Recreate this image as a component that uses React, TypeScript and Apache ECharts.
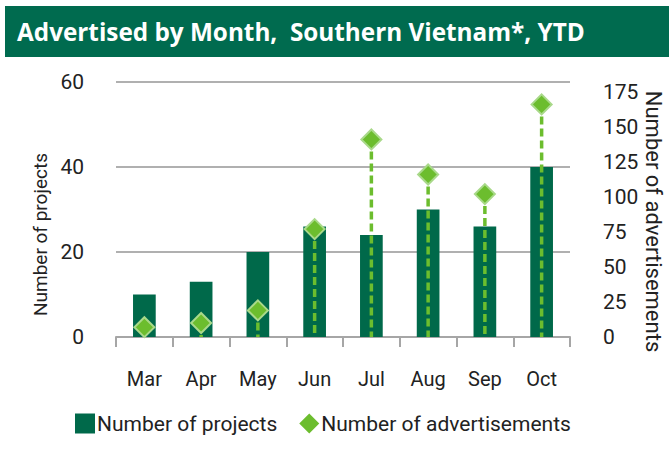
import React, { useEffect, useRef } from "react";
import * as echarts from "echarts";

const months = ["Mar", "Apr", "May", "Jun", "Jul", "Aug", "Sep", "Oct"];
const projects = [10, 13, 20, 26, 24, 30, 26, 40];
const advertisements = [7, 10, 19, 77, 141, 116, 102, 166];
const leftTicks = { min: 0, max: 60, interval: 20 };
const rightTicks = { min: 0, max: 182, interval: 25 };

const FONT = "Roboto, 'Noto Sans', sans-serif";
const DARK = "#00694a";
const LIGHT = "#6cbd2e";
const TXT = "#222222";

export default function App() {
  const ref = useRef<HTMLDivElement>(null);
  useEffect(() => {
    if (!ref.current) return;
    const chart = echarts.init(ref.current, null, { renderer: "svg" });
    chart.setOption({
      animation: false,
      backgroundColor: "#ffffff",
      graphic: [
        { type: "rect", left: 5, top: 6, shape: { width: 664, height: 51 }, style: { fill: "#006b4f" } },
        {
          type: "text",
          x: 17,
          y: 31,
          style: {
            text: "Advertised by Month,  Southern Vietnam*, YTD",
            fill: "#ffffff",
            font: "bold 24.3px 'Open Sans', sans-serif",
            verticalAlign: "middle",
          },
        },
      ],
      grid: { left: 116, right: 99, top: 82, bottom: 130, outerBoundsMode: "none", containLabel: false },
      legend: {
        top: 408,
        left: 70,
        itemGap: 22,
        itemWidth: 20,
        itemHeight: 20,
        textStyle: { fontFamily: FONT, fontSize: 21, color: TXT, padding: [0, 0, 0, -3] },
        data: [
          { name: "Number of projects", icon: "rect" },
          { name: "Number of advertisements", icon: "diamond", itemStyle: { borderWidth: 0 } },
        ],
      },
      xAxis: {
        type: "category",
        data: months,
        axisLine: { lineStyle: { color: "#a6a6a6", width: 2 } },
        axisTick: { show: true, length: 10, lineStyle: { color: "#a6a6a6", width: 2 } },
        axisLabel: { fontFamily: FONT, fontSize: 20, color: TXT, margin: 32 },
      },
      yAxis: [
        {
          type: "value",
          min: leftTicks.min,
          max: leftTicks.max,
          interval: leftTicks.interval,
          name: "Number of projects",
          nameLocation: "middle",
          nameGap: 66,
          nameMoveOverlap: false,
          nameTextStyle: { fontFamily: FONT, fontSize: 19, color: TXT, padding: [0, 50, 0, 0] },
          axisLine: { show: false },
          axisTick: { show: false },
          splitLine: { lineStyle: { color: "#b0b0b0", width: 2 } },
          axisLabel: { fontFamily: FONT, fontSize: 21, color: TXT, margin: 32 },
        },
        {
          type: "value",
          min: rightTicks.min,
          max: rightTicks.max,
          interval: rightTicks.interval,
          name: "Number of advertisements",
          nameLocation: "middle",
          nameGap: 72,
          nameMoveOverlap: false,
          nameRotate: -90,
          nameTextStyle: { fontFamily: FONT, fontSize: 22, color: TXT, padding: [0, 0, 0, 24] },
          axisLine: { show: false },
          axisTick: { show: false },
          splitLine: { show: false },
          axisLabel: {
            fontFamily: FONT,
            fontSize: 21,
            color: TXT,
            margin: 33,
            showMaxLabel: false,
            formatter: (v: number) => (v % 25 === 0 ? String(v) : ""),
          },
        },
      ],
      series: [
        {
          name: "Number of projects",
          type: "bar",
          data: projects,
          barWidth: "40%",
          itemStyle: { color: DARK },
          z: 2,
        },
        {
          name: "droplines",
          type: "custom",
          yAxisIndex: 1,
          data: advertisements.map((v, i) => [i, v]),
          renderItem: (params: any, api: any) => {
            const p1 = api.coord([api.value(0), api.value(1)]);
            const p0 = api.coord([api.value(0), 0]);
            return {
              type: "line",
              shape: { x1: p1[0], y1: p1[1], x2: p0[0], y2: p0[1] },
              style: { stroke: LIGHT, lineWidth: 3.5, lineDash: [8, 4] },
            };
          },
          z: 3,
          silent: true,
        },
        {
          name: "Number of advertisements",
          type: "scatter",
          yAxisIndex: 1,
          data: advertisements,
          symbol: "diamond",
          symbolSize: [20, 20],
          itemStyle: { color: LIGHT, borderColor: "#a9d98a", borderWidth: 2, opacity: 1 },
          z: 4,
        },
      ],
    });
    return () => chart.dispose();
  }, []);
  return <div ref={ref} style={{ position: "fixed", left: 0, top: 0, width: 669, height: 467 }} />;
}
